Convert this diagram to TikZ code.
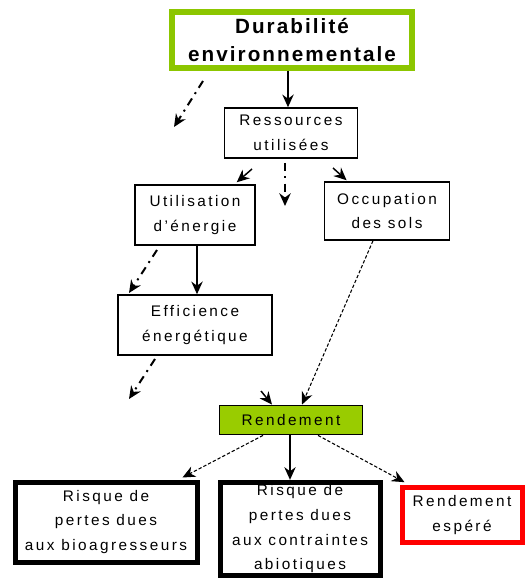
\documentclass[tikz,border=0pt]{standalone}
\usepackage{fontspec}
\setmainfont{Liberation Sans}
\usetikzlibrary{arrows.meta,calc}
\definecolor{leafgreen}{RGB}{140,198,0}
\definecolor{yieldgreen}{RGB}{153,204,0}
\definecolor{alertred}{RGB}{255,0,0}

\begin{document}
\begin{tikzpicture}[x=0.75pt, y=-0.75pt,
    comp/.style={rectangle, draw, line width=1.1pt, inner sep=0pt, align=center,
      font=\fontsize{11.5}{18.5}\selectfont\addfontfeature{LetterSpace=16}},
    risk/.style={comp, line width=3.75pt},
    arrow/.style={-{Stealth[length=9.5pt,width=8.5pt]}, line width=1.1pt},
    dasharrow/.style={arrow, line width=0.8pt, dash pattern=on 2.5pt off 1.5pt},
    dotdash/.style={arrow, line width=1.5pt, dash pattern=on 6pt off 4pt on 1.5pt off 4pt}
  ]
    \useasboundingbox (0,0) rectangle (525,580);

    \node[comp, draw=leafgreen, line width=4pt, minimum width=180pt, minimum height=42pt,
      font=\fontsize{15.5}{20.5}\selectfont\bfseries\addfontfeature{LetterSpace=10}]
      (dur) at (292,40) {Durabilité\\environnementale};
    \node[comp, minimum width=100pt, minimum height=37.5pt] (res) at (291,133) {Ressources\\utilisées};
    \node[comp, minimum width=90pt, minimum height=45pt] (util) at (195,215) {Utilisation\\d'énergie};
    \node[comp, minimum width=94pt, minimum height=43.5pt] (occ) at (387,211) {Occupation\\des sols};
    \node[comp, minimum width=115.5pt, minimum height=45pt] (eff) at (195,325) {Efficience\\énergétique};
    \node[comp, fill=yieldgreen, minimum width=107pt, minimum height=22pt] (rend) at (291,420) {Rendement};
    \node[risk, minimum width=136.5pt, minimum height=60pt] (bio) at (106,522) {Risque de\\pertes dues\\aux bioagresseurs};
    \node[risk, minimum width=120pt, minimum height=70pt] (abio) at (300,529) {Risque de\\pertes dues\\aux contraintes\\abiotiques};
    \node[risk, draw=alertred, minimum width=90pt, minimum height=41pt] (esp) at (462,515) {Rendement\\espéré};

    % loose ends
    \coordinate (top1) at (203,81);   \coordinate (top2) at (174,127);
    \coordinate (mid1) at (285,163);  \coordinate (mid2) at (285,206);
    \coordinate (left1) at (157,250); \coordinate (left2) at (129,293);
    \coordinate (low1) at (155,359);  \coordinate (low2) at (129,399);
    \coordinate (tipu) at (252,169);  \coordinate (tipo) at (333,168);
    \coordinate (tipr) at (261,391);

    \draw[arrow] (dur.south) ++(-4,0) -- ($(res.north)+(-3,0)$);
    \draw[dotdash] (top1) -- (top2);
    \draw[dotdash] (mid1) -- (mid2);
    \draw[arrow] (tipu) -- ($(util.north east)+(-19,-2)$);
    \draw[arrow] (tipo) -- ($(occ.north west)+(23,-1)$);
    \draw[arrow] (util.south) ++(2,0) -- ($(eff.north)+(2,0)$);
    \draw[dotdash] (left1) -- (left2);
    \draw[dotdash] (low1) -- (low2);
    \draw[dasharrow] ($(occ.south)+(-14,0)$) -- ($(rend.north)+(11,0)$);
    \draw[arrow] (tipr) -- ($(rend.north)+(-19,0)$);
    \draw[dasharrow] ($(rend.south)+(-28,0)$) -- ($(bio.north east)+(-17,-2)$);
    \draw[arrow] (rend.south) ++(-1,0) -- ($(abio.north)+(-10,0)$);
    \draw[dasharrow] ($(rend.south)+(27,0)$) -- ($(esp.north west)+(5,-3)$);
  \end{tikzpicture}
\end{document}
